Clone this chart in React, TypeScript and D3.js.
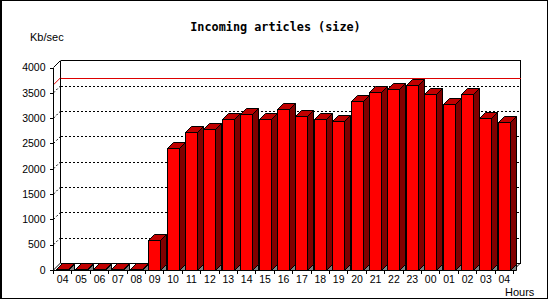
import React from "react";
import * as d3 from "d3";

const hours = ["04","05","06","07","08","09","10","11","12","13","14","15","16","17","18","19","20","21","22","23","00","01","02","03","04"];
const sizes = [10, 10, 10, 10, 10, 591, 2404, 2725, 2791, 2989, 3088, 2989, 3186, 3048, 2989, 2949, 3343, 3521, 3580, 3659, 3481, 3284, 3481, 3008, 2930];
const yTicks = [0, 500, 1000, 1500, 2000, 2500, 3000, 3500, 4000];
const gridValues = [500, 1000, 1500, 2000, 2500, 3000, 3500];

const W = 550, H = 300;
const X0 = 53.5, X1 = 513.5, Y0 = 270, YTOP = 67.5;
const PD = 7; // plane depth
const BD = 6; // bar depth

export default function App() {
  const x = d3.scaleBand<number>().domain(hours.map((_, i) => i)).range([X0, X1]).paddingInner(0).paddingOuter(0);
  const y = d3.scaleLinear().domain([0, 4000]).range([Y0, YTOP]);
  const bw = x.bandwidth();
  const barW = 12;
  const barOff = 2.7;
  const maxV = d3.max(sizes) as number;
  const backL = X0 + PD, backR = X1 + PD;
  const poly = (pts: [number, number][]) => pts.map((p) => p.join(",")).join(" ");

  return (
    <svg width={W} height={H} style={{ position: "absolute", left: 0, top: 0, background: "#fff" }}>
      <rect x={0} y={0} width={W} height={H} fill="#fff" />
      {/* frame */}
      <rect x={0.5} y={0.5} width={547} height={298} fill="none" stroke="#000" shapeRendering="crispEdges" />
      <line x1={1.5} x2={1.5} y1={0} y2={299} stroke="#000" shapeRendering="crispEdges" />

      {/* title */}
      <text x={275.5} y={31} textAnchor="middle" fontFamily="DejaVu Sans Mono" fontWeight="bold" fontSize={11.8} fill="#000">Incoming articles (size)</text>
      <text x={30} y={41} fontFamily="Liberation Sans" fontSize={11} fill="#000">Kb/sec</text>
      <text x={505} y={296} fontFamily="Liberation Sans" fontSize={11} fill="#000">Hours</text>

      {/* back plane */}
      <g stroke="#000" fill="none">
        <line x1={backL} x2={backR} y1={y(4000) - PD} y2={y(4000) - PD} shapeRendering="crispEdges" />
        <line x1={backR} x2={backR} y1={y(4000) - PD} y2={Y0 - PD} shapeRendering="crispEdges" />
        <line x1={backL} x2={backL} y1={y(4000) - PD} y2={Y0 - PD} shapeRendering="crispEdges" />
        <line x1={backL} x2={backR} y1={Y0 - PD} y2={Y0 - PD} shapeRendering="crispEdges" />
        <line x1={X0} y1={y(4000)} x2={backL} y2={y(4000) - PD} />
        <line x1={X0} y1={Y0} x2={backL} y2={Y0 - PD} />
        <line x1={X1} y1={Y0} x2={backR} y2={Y0 - PD} />
      </g>

      {/* dotted gridlines */}
      <g stroke="#000" fill="none" strokeDasharray="2,2">
        {gridValues.map((v) => (
          <g key={v}>
            <line x1={backL} x2={backR} y1={Math.round(y(v) - PD) + 0.5} y2={Math.round(y(v) - PD) + 0.5} shapeRendering="crispEdges" />
            <line x1={X0} y1={y(v)} x2={backL} y2={y(v) - PD} />
          </g>
        ))}
      </g>

      {/* max line */}
      <g stroke="#dd0000" fill="none">
        <line x1={backL} x2={backR} y1={Math.round(y(maxV) - PD) + 0.5} y2={Math.round(y(maxV) - PD) + 0.5} shapeRendering="crispEdges" />
        <line x1={X0} y1={y(maxV)} x2={backL} y2={y(maxV) - PD} />
      </g>

      {/* bars */}
      <g stroke="#000" strokeWidth={1} strokeLinejoin="miter">
        {sizes.map((v, i) => {
          const xl = Math.round((x(i) as number) + barOff) + 0.5;
          const xr = xl + barW;
          const yt = Math.round(y(v)) + 0.5;
          const yb = Y0 + 0.5;
          return (
            <g key={i}>
              <polygon points={poly([[xr, yb], [xr + BD, yb - BD], [xr + BD, yb]])} fill="#808080" />
              <polygon points={poly([[xr, yt], [xr + BD, yt - BD], [xr + BD, yb - BD], [xr, yb]])} fill="#800000" />
              <polygon points={poly([[xl, yt], [xl + BD, yt - BD], [xr + BD, yt - BD], [xr, yt]])} fill="#c00000" />
              {v > 0 && <rect x={xl} y={yt} width={barW} height={yb - yt} fill="#ff0000" />}
            </g>
          );
        })}
      </g>

      {/* front axes */}
      <g stroke="#000" fill="none" shapeRendering="crispEdges">
        <line x1={X0} x2={X0} y1={y(4000)} y2={Y0 + 0.5} />
        <line x1={X0} x2={X1} y1={Y0 + 0.5} y2={Y0 + 0.5} />
        {yTicks.map((t) => (
          <line key={t} x1={X0 - 4} x2={X0} y1={Math.round(y(t)) + 0.5} y2={Math.round(y(t)) + 0.5} />
        ))}
        {d3.range(hours.length + 1).map((i) => {
          const xx = Math.round(X0 + i * bw - 0.5) + 0.5;
          return <line key={i} x1={xx} x2={xx} y1={Y0} y2={Y0 + 4} />;
        })}
      </g>

      {/* tick labels */}
      <g fontFamily="Liberation Sans" fontSize={10.5} fill="#000">
        {yTicks.map((t) => (
          <text key={t} x={45.5} y={y(t) + 3.8} textAnchor="end">{t}</text>
        ))}
        {hours.map((h, i) => (
          <text key={i} x={(x(i) as number) + bw / 2} y={283} textAnchor="middle">{h}</text>
        ))}
      </g>
    </svg>
  );
}
